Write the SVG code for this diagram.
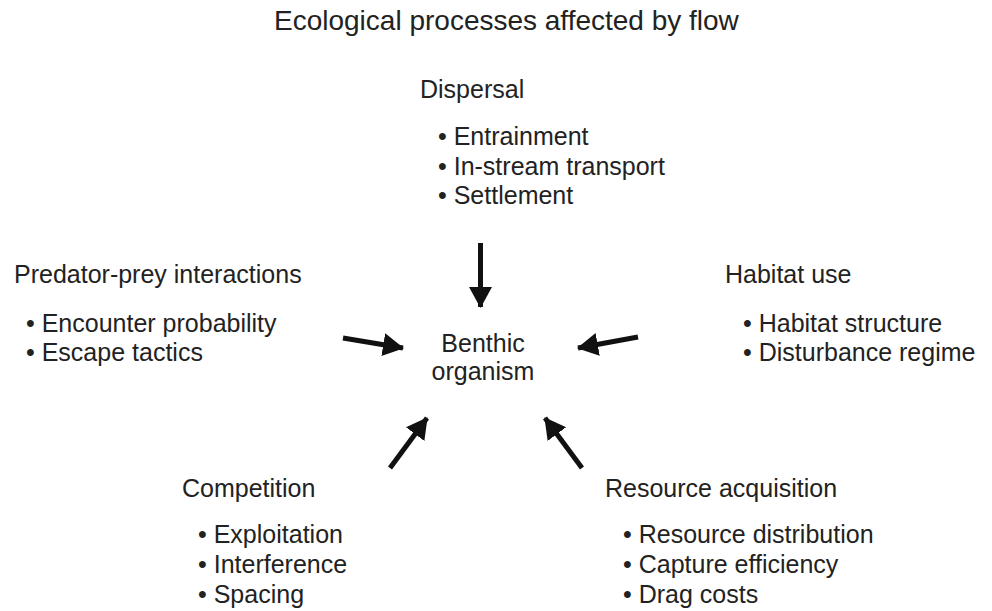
<svg xmlns="http://www.w3.org/2000/svg" width="992" height="611" viewBox="0 0 992 611">
<style>
text { font-family: "Liberation Sans", Arial, sans-serif; font-size: 25px; fill: #222; }
.title { font-size: 28px; }
.arrow { stroke: #111; stroke-width: 5; fill: none; marker-end: url(#head); }
</style>
<defs>
<marker id="head" markerUnits="userSpaceOnUse" markerWidth="22" markerHeight="24" refX="20" refY="11.5" orient="auto">
<path d="M0,0 L21,11.5 L0,23 z" fill="#111"/>
</marker>
</defs>
<rect width="992" height="611" fill="#fff"/>
<g id="title">
<text class="title" x="274" y="30">Ecological processes affected by flow</text>
</g>
<g id="dispersal">
<text x="420" y="98">Dispersal</text>
<text x="438" y="145">• Entrainment</text>
<text x="438" y="175">• In-stream transport</text>
<text x="438" y="204">• Settlement</text>
</g>
<g id="predator-prey">
<text x="14" y="283">Predator-prey interactions</text>
<text x="26" y="332">• Encounter probability</text>
<text x="26" y="361">• Escape tactics</text>
</g>
<g id="habitat-use">
<text x="725" y="283">Habitat use</text>
<text x="743" y="332">• Habitat structure</text>
<text x="743" y="361">• Disturbance regime</text>
</g>
<g id="benthic-organism">
<text x="483" y="352" text-anchor="middle">Benthic</text>
<text x="483" y="380" text-anchor="middle">organism</text>
</g>
<g id="competition">
<text x="182" y="497">Competition</text>
<text x="198" y="543">• Exploitation</text>
<text x="198" y="573">• Interference</text>
<text x="198" y="603">• Spacing</text>
</g>
<g id="resource-acquisition">
<text x="605" y="497">Resource acquisition</text>
<text x="623" y="543">• Resource distribution</text>
<text x="623" y="573">• Capture efficiency</text>
<text x="623" y="603">• Drag costs</text>
</g>
<g id="connectors">
<line class="arrow" x1="480.5" y1="243" x2="480.5" y2="307"/>
<line class="arrow" x1="343" y1="338" x2="403" y2="348"/>
<line class="arrow" x1="638" y1="337" x2="578" y2="348"/>
<line class="arrow" x1="390" y1="468" x2="427" y2="418"/>
<line class="arrow" x1="582" y1="468" x2="545" y2="418"/>
</g>
</svg>
